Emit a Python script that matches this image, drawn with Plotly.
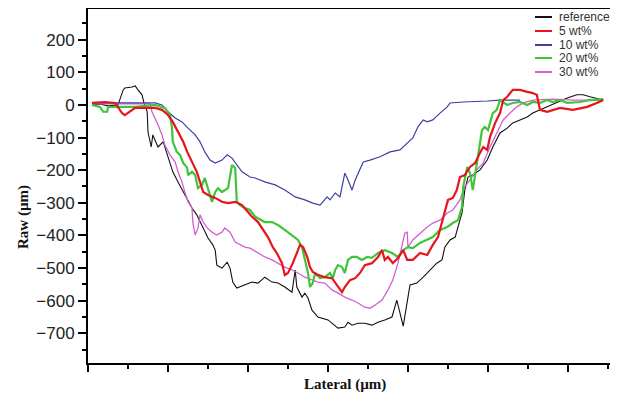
import plotly.graph_objects as go

# ---------------- data ----------------
series_names = ["reference", "5 wt%", "10 wt%", "20 wt%", "30 wt%"]

ref_x = [5, 15, 25, 37.5, 44, 46, 55, 59, 62.5, 67.5, 70, 74, 75, 79, 81, 85, 87.5, 94, 99, 102.5,
         106, 112.5, 119, 125, 130, 136, 140, 144, 150, 156, 159, 161, 167.5, 174, 177.5, 181, 186,
         196, 205, 212.5, 221, 230, 237.5, 246, 255, 259, 261, 267.5, 271, 275, 280, 287.5, 300,
         312.5, 321, 325, 330, 337.5, 346, 355, 362.5, 371, 380, 386, 394, 402.5, 411, 419, 427.5,
         436, 442.5, 446, 452.5, 459, 462.5, 467.5, 471, 475, 481, 490, 499, 506, 515, 524, 531,
         540, 549, 556, 565, 575, 586, 599, 611, 619, 627.5, 636, 644]
ref_y = [0, 3, -3, 0, 46, 52, 55, 58, 46, 31, 6, -21, -83, -129, -92, -113, -129, -113, -153, -184,
         -205, -236, -267, -297, -316, -337, -359, -377, -408, -429, -445, -491, -500, -482, -500, -543, -561,
         -552, -543, -546, -528, -543, -546, -558, -574, -506, -558, -589, -577, -592, -629, -650, -659,
         -684, -681, -666, -675, -669, -669, -675, -666, -659, -650, -598, -678, -552, -546, -528, -506,
         -485, -475, -436, -414, -405, -374, -331, -261, -221, -215, -199, -169, -129, -86, -71, -55,
         -46, -37, -25, -15, -6, 6, 21, 31, 31, 25, 21, 15]

w5_x = [5, 21, 34, 42.5, 46, 52.5, 59, 69, 84, 92.5, 100, 106, 112.5, 119, 124, 130, 136, 140, 144,
        150, 159, 167.5, 175, 184, 192.5, 200, 205, 212.5, 219, 225, 231, 236, 242.5, 246, 250, 256,
        261, 265, 269, 274, 277.5, 281, 287.5, 296, 305, 312.5, 317.5, 321, 327.5, 334, 340, 346, 355,
        362.5, 367.5, 371, 375, 381, 387.5, 394, 399, 406, 415, 424, 431, 437.5, 442.5, 446, 450, 456,
        461, 465, 471, 477.5, 484, 490, 494, 499, 502.5, 509, 515, 519, 524, 531, 540, 549, 555, 561,
        565, 574, 581, 590, 606, 624, 636, 644]
w5_y = [6, 9, 6, -25, -31, -21, -9, -9, -9, -15, -31, -52, -83, -113, -144, -175, -205, -236, -267,
        -276, -285, -297, -301, -297, -307, -328, -343, -359, -383, -405, -436, -454, -485, -521, -515, -485,
        -454, -429, -436, -466, -497, -512, -521, -528, -531, -558, -574, -558, -537, -531, -515, -491, -485,
        -466, -445, -475, -466, -485, -469, -445, -475, -475, -454, -460, -429, -405, -362, -331, -291, -285,
        -261, -221, -215, -190, -178, -147, -129, -138, -98, -55, -25, 15, 25, 46, 46, 40, 37, 31,
        -15, -21, -15, -9, -15, -6, 6, 15]

w10_x = [5, 40, 84, 92.5, 100, 109, 117.5, 125, 134, 140, 146, 152.5, 159, 167.5, 174, 180, 186,
         192.5, 202.5, 209, 221, 234, 246, 259, 271, 281, 290, 299, 302.5, 309, 315, 321, 325, 330,
         334, 340, 344, 352.5, 365, 377.5, 390, 399, 406, 412.5, 419, 424, 431, 440, 449, 452.5, 469,
         499, 515, 540]
w10_y = [6, 6, 6, 0, -21, -40, -52, -71, -92, -113, -144, -169, -178, -169, -153, -163, -184,
         -205, -221, -224, -236, -245, -261, -282, -291, -301, -307, -282, -291, -270, -282, -209, -230, -261,
         -230, -199, -175, -169, -159, -144, -138, -117, -101, -67, -46, -52, -46, -25, -6, 6, 9,
         12, 15, 15]

w20_x = [5, 15, 19, 24, 25, 34, 59, 84, 96, 102.5, 105, 106, 111, 115, 119, 124, 125, 130, 134,
         137.5, 142.5, 146, 150, 155, 159, 162.5, 167.5, 175, 180, 184, 186, 190, 196, 202.5, 209, 221,
         230, 237.5, 246, 255, 262.5, 267.5, 271, 275, 277.5, 281, 284, 290, 296, 302.5, 306, 309,
         312.5, 317.5, 321, 325, 330, 336, 342.5, 349, 355, 362.5, 371, 380, 387.5, 394, 400, 406,
         415, 424, 431, 440, 449, 456, 462.5, 467.5, 469, 474, 477.5, 481, 486, 492.5, 496, 500, 506,
         511, 515, 524, 531, 540, 549, 556, 565, 574, 581, 590, 599, 615, 627.5, 644]
w20_y = [0, -6, -21, -21, -6, -6, -6, 0, -9, -31, -71, -113, -144, -153, -178, -193, -215, -205, -215,
         -255, -245, -224, -255, -297, -267, -255, -267, -255, -184, -193, -297, -307, -316, -322, -343, -359,
         -359, -368, -383, -399, -414, -436, -475, -515, -558, -546, -515, -531, -528, -515, -531, -506,
         -491, -497, -515, -475, -466, -466, -475, -466, -469, -454, -445, -454, -466, -445, -436, -439,
         -423, -414, -405, -383, -374, -362, -353, -313, -251, -190, -209, -261, -178, -77, -67, -77, -25,
         -15, 15, 0, 6, 9, 0, 9, 6, 15, 9, 15, 6, 9, 15, 18]

w30_x = [5, 40, 77.5, 80, 84, 87.5, 92.5, 96, 102.5, 109, 112.5, 117.5, 121, 125, 130, 131, 134,
         137.5, 140, 144, 149, 155, 161, 167.5, 171, 177.5, 184, 190, 196, 202.5, 212.5, 221, 230,
         237.5, 246, 255, 262.5, 271, 280, 287.5, 296, 305, 312.5, 321, 330, 337.5, 346, 352.5, 359,
         367.5, 375, 381, 387.5, 392.5, 396, 399, 400, 406, 415, 424, 431, 440, 449, 456, 465, 471,
         477.5, 486, 494, 502.5, 511, 519, 527.5, 536, 544, 556, 581, 609, 644]
w30_y = [3, 3, 3, -21, -40, -61, -92, -123, -153, -175, -205, -236, -267, -297, -316, -359, -399,
         -377, -337, -359, -377, -390, -399, -390, -377, -390, -420, -429, -436, -439, -454, -466, -475,
         -485, -497, -506, -515, -528, -537, -543, -546, -567, -577, -589, -598, -607, -620, -623, -613,
         -598, -567, -537, -485, -436, -393, -390, -436, -414, -393, -374, -362, -353, -331, -322, -291, -251,
         -230, -199, -178, -129, -86, -46, -25, -6, 6, 15, 18, 15, 15]

colors = ["#111111", "#e8141c", "#3b3fa6", "#3fc43a", "#d35fcf"]
widths = [1.1, 2.2, 1.2, 2.2, 1.3]

xs = [ref_x, w5_x, w10_x, w20_x, w30_x]
ys = [ref_y, w5_y, w10_y, w20_y, w30_y]

# ---------------- figure ----------------
fig = go.Figure()
for i in [0, 4, 2, 3, 1]:
    fig.add_trace(go.Scatter(x=xs[i], y=ys[i], mode="lines", name=series_names[i],
                             line=dict(color=colors[i], width=widths[i]), showlegend=False))

# page has an 8px body margin: lay out in page coordinates
OFF = 8
W, H = 618 - OFF, 402 - OFF
ml, mr, mt, mb = 80, 0, 1, 39
pw, ph = W - ml - mr, H - mt - mb
plot_left, plot_top = ml + OFF, mt + OFF
plot_bottom = plot_top + ph


def px_x(p):
    return (p - plot_left) / pw


def px_y(p):
    return (plot_bottom - p) / ph


# compact legend (top right)
leg_rows = [17, 31, 45, 58, 72]
for name, col, row in zip(series_names, colors, leg_rows):
    fig.add_shape(type="line", xref="paper", yref="paper",
                  x0=px_x(535), x1=px_x(552), y0=px_y(row), y1=px_y(row),
                  line=dict(color=col, width=2))
    fig.add_annotation(xref="paper", yref="paper", x=px_x(557), y=px_y(row),
                       xanchor="left", yanchor="middle", text=name, showarrow=False,
                       font=dict(family="Liberation Sans, Arial", size=12, color="#333333"))

fig.add_annotation(xref="paper", yref="paper", x=px_x(23), y=px_y(217), text="<b>Raw (µm)</b>",
                   textangle=-90, showarrow=False, xanchor="center", yanchor="middle",
                   font=dict(family="Liberation Serif, Times New Roman", size=15, color="#111111"))
fig.add_annotation(xref="paper", yref="paper", x=px_x(345), y=px_y(384), text="<b>Lateral (µm)</b>",
                   showarrow=False, xanchor="center", yanchor="middle",
                   font=dict(family="Liberation Serif, Times New Roman", size=15, color="#111111"))

fig.update_layout(
    width=W, height=H,
    margin=dict(l=ml, r=mr, t=mt, b=mb),
    paper_bgcolor="white", plot_bgcolor="white",
    showlegend=False,
)
fig.update_xaxes(range=[0, 662.5], showgrid=False, zeroline=False,
                 showline=True, linecolor="black", linewidth=2, mirror=True,
                 ticks="outside", tickmode="linear", tick0=0, dtick=100, ticklen=7,
                 tickwidth=2, tickcolor="black", showticklabels=False,
                 minor=dict(ticks="outside", dtick=50, tick0=0, ticklen=4, tickwidth=2, tickcolor="black"))
fig.update_yaxes(range=[-791, 294], showgrid=False, zeroline=False,
                 showline=True, linecolor="black", linewidth=2, mirror=False,
                 ticks="outside", tickmode="linear", tick0=0, dtick=100, ticklen=8,
                 tickwidth=2, tickcolor="black",
                 tickfont=dict(family="Liberation Sans, Arial", size=17, color="#222222"),
                 minor=dict(ticks="outside", dtick=50, tick0=0, ticklen=4, tickwidth=2, tickcolor="black"))

fig.write_html("out.html")
